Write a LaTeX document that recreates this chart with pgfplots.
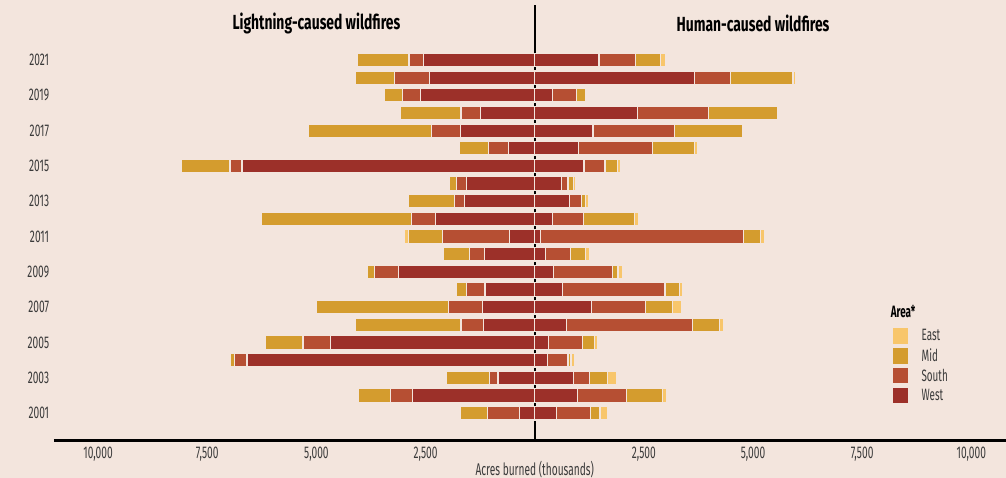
\documentclass[border=0pt]{standalone}
\usepackage{pgfplots}
\pgfplotsset{compat=1.18}
\usepackage{pgfplotstable}
\usepackage{fontspec}
\setmainfont{Fira Sans}[FakeStretch=0.6]
\newfontfamily\titlefont{Fira Sans}[FakeStretch=0.68]
\usetikzlibrary{backgrounds}

\definecolor{bg}{HTML}{F3E5DD}
\definecolor{west}{HTML}{9C3029}
\definecolor{south}{HTML}{B64F33}
\definecolor{mid}{HTML}{D49C2E}
\definecolor{east}{HTML}{F8C66B}
\definecolor{txt}{HTML}{3A3A3A}

% acres burned, thousands
\pgfplotstableread{
year West South Mid East
2021 2549 331 1182 0
2020 2415 788 906 0
2019 2612 410 417 0
2018 1233 457 1387 0
2017 1706 662 2813 0
2016 595 465 670 0
2015 6702 275 1119 0
2014 1556 237 165 0
2013 1604 236 1056 0
2012 2265 552 3443 0
2011 579 1529 788 79
2010 1146 355 591 0
2009 3124 544 158 0
2008 1139 425 236 0
2007 1202 780 3018 0
2006 1178 512 2427 0
2005 4677 630 859 0
2004 6591 292 94 0
2003 839 197 985 0
2002 2801 505 732 0
2001 351 733 622 16
}\lightning

\pgfplotstableread{
year West South Mid East
2021 1471 835 577 108
2020 3661 817 1437 50
2019 405 556 194 10
2018 2357 1631 1572 20
2017 1334 1869 1549 15
2016 995 1711 950 80
2015 1128 480 286 80
2014 613 149 130 53
2013 801 268 98 62
2012 412 709 1160 92
2011 137 4645 384 103
2010 252 572 332 110
2009 423 1361 126 103
2008 636 2350 339 55
2007 1297 1247 618 208
2006 737 2878 613 96
2005 316 776 281 76
2004 293 469 69 92
2003 888 375 403 217
2002 972 1128 824 89
2001 499 778 217 176
}\human

\pgfplotsset{
  fireaxis/.style={
    scale only axis, width=952bp, height=435.7bp,
    xmin=-11010, xmax=10795, ymin=1999.449, ymax=2024.113,
    xbar stacked, bar width=13.5bp, clip=false,
  },
  seg/.style={fill=#1, draw=bg, line width=1.2bp},
}

\begin{document}
\begin{tikzpicture}
% left side: lightning
\begin{axis}[fireaxis,
  axis x line*=bottom, axis y line*=left,
  x axis line style={line width=2.7bp, black, -},
  y axis line style={draw=none},
  major tick length=0pt,
  scaled x ticks=false,
  xtick={-10000,-7500,-5000,-2500,2500,5000,7500,10000},
  xticklabels={{10,000},{7,500},{5,000},{2,500},{2,500},{5,000},{7,500},{10,000}},
  ytick={2001,2003,...,2021},
  yticklabels={2001,2003,2005,2007,2009,2011,2013,2015,2017,2019,2021},
  tick label style={font=\fontsize{17}{17}\selectfont, text=txt, inner sep=0pt},
  xticklabel shift=6bp, yticklabel shift=4.7bp,
  xlabel={Acres burned (thousands)},
  xlabel style={at={(axis description cs:0.50494,0)}, anchor=north, yshift=-20bp,
    inner sep=0pt, font=\fontsize{17}{17}\selectfont, text=txt},
]
\addplot[seg=west] table[x expr=-\thisrow{West}, y=year] {\lightning};
\addplot[seg=south] table[x expr=-\thisrow{South}, y=year] {\lightning};
\addplot[seg=mid] table[x expr=-\thisrow{Mid}, y=year] {\lightning};
\addplot[seg=east] table[x expr=-\thisrow{East}, y=year] {\lightning};
\end{axis}

% right side: human
\begin{axis}[fireaxis, hide axis,
  reverse legend,
  legend cell align=left,
  legend image code/.code={\draw[#1] (0bp,-8.25bp) rectangle (16.5bp,8.25bp);},
  legend style={at={(axis cs:8177,2005.885)}, anchor=north west, draw=none, fill=none,
    inner sep=0pt, row sep=1.8bp, column sep=10bp,
    font=\fontsize{16.5}{16.5}\selectfont, text=txt},
]
\addplot[seg=west] table[x=West, y=year] {\human};
\addplot[seg=south] table[x=South, y=year] {\human};
\addplot[seg=mid] table[x=Mid, y=year] {\human};
\addplot[seg=east] table[x=East, y=year] {\human};
\legend{West,South,Mid,East}
\draw[line width=2bp, black] (axis cs:0,1999.449) -- (axis cs:0,2024.113);
\node[font=\titlefont\bfseries\fontsize{20.5}{20.5}\selectfont] at (axis cs:-5000,2023.05) {Lightning-caused wildfires};
\node[font=\titlefont\bfseries\fontsize{20.5}{20.5}\selectfont] at (axis cs:5000,2023.05) {Human-caused wildfires};
\node[anchor=west, inner sep=0pt, font=\bfseries\fontsize{16.5}{16.5}\selectfont] at (axis cs:8154,2006.75) {Area*};
\end{axis}

\begin{scope}[on background layer]
\fill[bg] ([xshift=-54bp,yshift=-37.3bp]current axis.south west) rectangle ([yshift=5bp]current axis.north east);
\end{scope}
\pgfresetboundingbox
\path[use as bounding box] ([xshift=-54bp,yshift=-37.3bp]current axis.south west) rectangle ([yshift=5bp]current axis.north east);
\end{tikzpicture}
\end{document}
